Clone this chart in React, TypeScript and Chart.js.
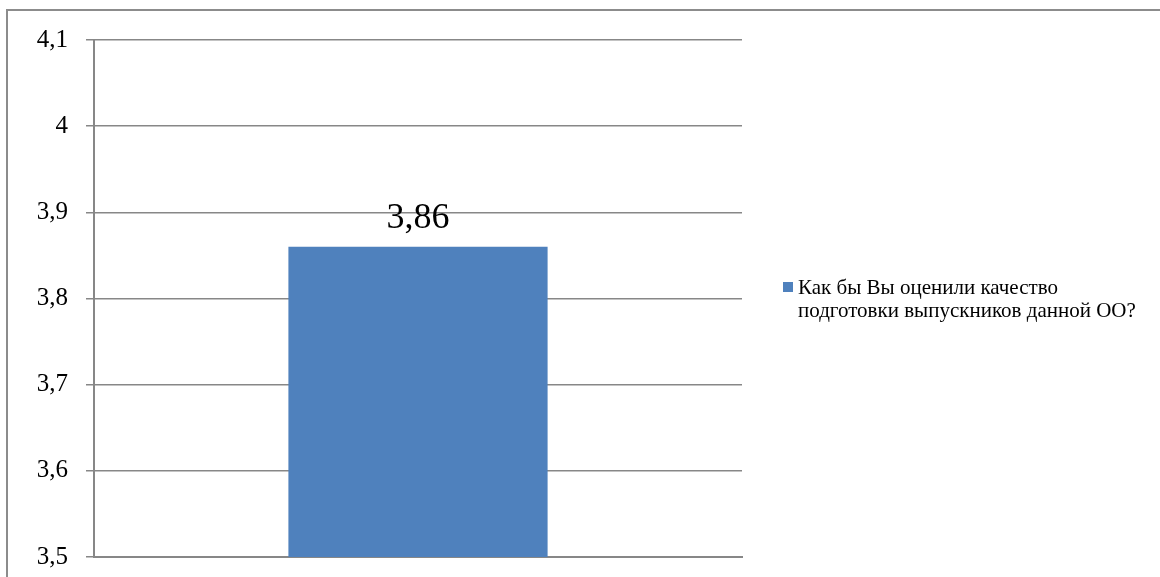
import React, { useEffect, useRef } from "react";
import { Chart, registerables } from "chart.js";

Chart.register(...registerables);

const categories: string[] = [""];
const seriesValues: number[] = [3.86];
const seriesLabelLines: string[] = ["Как бы Вы оценили качество", "подготовки выпускников данной ОО?"];
const yMin = 3.5;
const yMax = 4.1;
const yStep = 0.1;

const fmt = (v: number) => Number(v.toFixed(2)).toString().replace(".", ",");

const decorPlugin = {
  id: "decor",
  beforeDraw(chart: any) {
    const ctx = chart.ctx;
    ctx.save();
    ctx.strokeStyle = "#8c8c8c";
    ctx.lineWidth = 2;
    ctx.beginPath();
    ctx.moveTo(7, 600);
    ctx.lineTo(7, 10);
    ctx.lineTo(1170, 10);
    ctx.stroke();
    ctx.restore();
  },
  afterDatasetsDraw(chart: any) {
    const ctx = chart.ctx;
    const meta = chart.getDatasetMeta(0);
    ctx.save();
    ctx.fillStyle = "#000";
    ctx.font = '36px "Liberation Serif"';
    ctx.textAlign = "center";
    ctx.textBaseline = "alphabetic";
    meta.data.forEach((el: any, i: number) => {
      ctx.fillText(fmt(seriesValues[i]), el.x, el.y - 19);
    });
    // legend
    const color = chart.data.datasets[0].backgroundColor;
    ctx.fillStyle = color;
    ctx.fillRect(783, 282, 10, 10);
    ctx.fillStyle = "#000";
    ctx.font = '21px "Liberation Serif"';
    ctx.textAlign = "left";
    ctx.textBaseline = "middle";
    seriesLabelLines.forEach((line, i) => {
      ctx.fillText(line, 798, 288 + i * 23);
    });
    ctx.restore();
  },
};

export default function App() {
  const ref = useRef<HTMLCanvasElement | null>(null);
  useEffect(() => {
    if (!ref.current) return;
    const chart = new Chart(ref.current, {
      type: "bar",
      data: {
        labels: categories,
        datasets: [
          {
            label: seriesLabelLines.join(" "),
            data: seriesValues,
            backgroundColor: "#4F81BD",
            barPercentage: 0.4,
            categoryPercentage: 1,
          },
        ],
      },
      options: {
        animation: false,
        responsive: true,
        maintainAspectRatio: false,
        layout: { padding: { left: 0, top: 40, right: 418, bottom: 20 } },
        plugins: {
          legend: { display: false },
          tooltip: { enabled: false },
        },
        scales: {
          x: {
            ticks: { display: false },
            grid: { display: false },
            border: { display: true, color: "#878787", width: 2 },
            afterFit: (s: any) => {
              s.height = 0;
            },
          },
          y: {
            min: yMin,
            max: yMax,
            ticks: {
              stepSize: yStep,
              padding: 18,
              color: "#000",
              font: { family: '"Liberation Serif"', size: 25 },
              callback: (v: any) => fmt(Number(v)),
            },
            grid: { color: "#878787", lineWidth: 1.5, tickLength: 8, drawTicks: true },
            border: { display: true, color: "#878787", width: 2 },
            afterFit: (s: any) => {
              s.width = 94;
              s.paddingTop = 0;
              s.paddingBottom = 0;
            },
          },
        },
      },
      plugins: [decorPlugin],
    });
    return () => chart.destroy();
  }, []);
  return (
    <div style={{ position: "absolute", left: 0, top: 0, width: 1160, height: 577, background: "#fff" }}>
      <canvas ref={ref} />
    </div>
  );
}
